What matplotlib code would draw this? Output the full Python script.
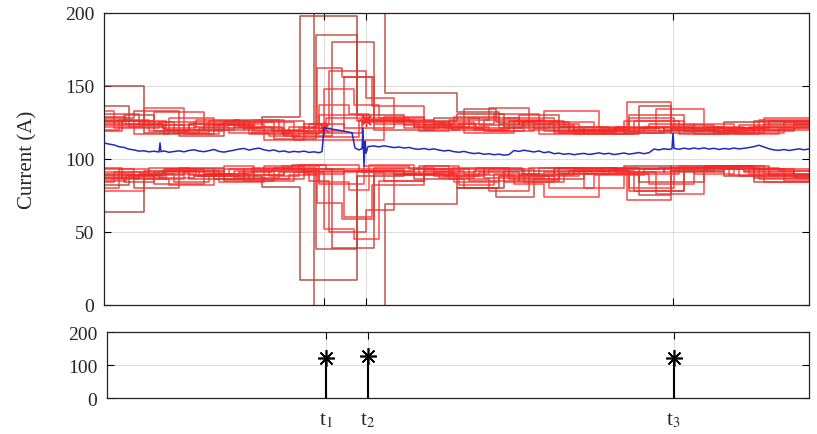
import matplotlib
matplotlib.use("Agg")
import matplotlib.pyplot as plt

plt.rcParams['font.family'] = ['Liberation Serif', 'DejaVu Serif']
plt.rcParams['mathtext.fontset'] = 'stix'

# time axis (samples), fault instants and detected values
t_max = 705
t_events = [220, 262, 569]
event_labels = ['t$_1$', 't$_2$', 't$_3$']
event_values = [121, 127, 122]

# measured current (blue)
blue_t = [0, 5, 10, 15, 20, 25, 30, 35, 40, 45, 50, 55, 56, 57, 60, 65, 70, 75, 80, 85,
          90, 95, 100, 105, 110, 115, 120, 125, 130, 135, 140, 145, 150, 155, 160, 165,
          170, 175, 180, 185, 190, 195, 200, 205, 210, 215, 218, 220, 225, 230, 235, 240,
          245, 248, 251, 255, 258, 259, 260, 261, 262, 264, 270, 275, 280, 285, 290, 295,
          300, 305, 310, 315, 320, 325, 330, 335, 340, 345, 350, 355, 360, 365, 370, 375,
          380, 385, 390, 395, 400, 405, 410, 415, 420, 425, 430, 435, 440, 445, 450, 455,
          460, 465, 470, 475, 480, 485, 490, 495, 500, 505, 510, 515, 520, 525, 530, 535,
          540, 545, 550, 555, 560, 565, 568, 569, 570, 575, 580, 585, 590, 595, 600, 605,
          610, 615, 620, 625, 630, 635, 640, 645, 650, 655, 660, 665, 670, 675, 680, 685,
          690, 695, 700, 705]
blue_i = [111.0, 110.2, 109.6, 108.4, 107.9, 106.7, 106.2, 105.4, 105.6, 104.9, 105.3, 104.8,
          111.0, 105.0, 105.5, 104.6, 105.1, 105.6, 104.9, 105.8, 106.3, 105.4, 105.0, 105.7,
          106.5, 105.2, 104.7, 105.4, 106.0, 106.8, 107.2, 106.1, 106.9, 107.4, 106.3, 105.6,
          106.2, 105.0, 105.5, 104.6, 105.2, 104.8, 105.4, 104.5, 104.9, 104.3, 105.0, 121.5,
          120.8, 120.2, 119.7, 119.0, 118.4, 118.0, 107.5, 106.2, 107.0, 121.0, 95.0, 112.0,
          104.0, 108.5, 108.9, 108.3, 109.0, 108.4, 107.8, 108.2, 107.5, 107.9, 107.0, 106.6,
          107.2, 106.4, 106.9, 106.1, 105.5, 105.9, 105.0, 104.6, 105.2, 104.3, 103.7, 104.1,
          103.2, 103.6, 102.9, 103.3, 102.6, 103.0, 105.8, 105.2, 106.0, 105.4, 104.8, 105.5,
          104.3, 104.9, 103.6, 104.0, 103.2, 103.7, 102.9, 103.5, 103.8, 103.1, 103.6, 104.2,
          103.4, 103.9, 103.0, 103.5, 104.1, 103.3, 103.8, 104.4, 103.6, 104.3, 106.8, 106.2,
          107.0, 106.5, 107.0, 117.5, 107.3, 106.6, 107.4, 106.8, 107.5, 106.9, 107.6, 106.8,
          107.3, 106.5, 107.2, 106.7, 107.5, 106.9, 107.3, 107.8, 108.5, 109.4, 108.2, 107.0,
          106.2, 105.9, 106.5, 105.8, 106.4, 106.9, 106.3, 106.8]

# interval estimates: window start, upper bound, lower bound (one row per estimator)
win_edges = [
    [0, 40, 95, 158, 196, 253, 300, 353, 400, 470, 520, 567, 620],
    [0, 25, 60, 110, 150, 210, 281, 353, 395, 450, 535, 567, 650],
    [0, 30, 75, 120, 170, 212, 253, 310, 360, 392, 430, 480, 535, 600, 650],
    [0, 20, 50, 85, 140, 180, 228, 270, 330, 375, 415, 455, 505, 567, 610, 660],
    [0, 35, 70, 105, 145, 185, 213, 238, 270, 315, 345, 385, 425, 470, 530, 580, 640],
    [0, 15, 45, 80, 115, 160, 200, 220, 250, 275, 320, 360, 410, 440, 495, 545, 590, 655],
    [0, 50, 100, 130, 175, 205, 225, 262, 290, 340, 380, 420, 460, 523, 567, 615, 680],
    [0, 10, 55, 90, 125, 165, 195, 222, 258, 300, 335, 370, 400, 450, 500, 552, 600, 640, 690],
    [0, 30, 65, 110, 140, 190, 280, 320, 355, 390, 435, 480, 520, 575, 625, 660],
    [0, 40, 80, 120, 150, 180, 215, 245, 265, 310, 350, 395, 445, 490, 540, 590, 630, 675],
    [0, 60, 120, 200, 240, 268, 320, 380, 440, 500, 560, 620],
    [0, 22, 58, 92, 135, 168, 200, 240, 290, 330, 372, 418, 465, 510, 555, 600, 648, 690],
    [0, 45, 85, 130, 178, 215, 260, 305, 345, 385, 430, 475, 525, 570, 605, 645],
    [0, 18, 62, 100, 148, 188, 255, 300, 348, 405, 455, 512, 560, 610, 665],
    [0, 35, 90, 140, 200, 258, 310, 365, 415, 470, 525, 580, 635],
]
win_upper = [
    [150, 118, 121, 129, 198, 130, 126, 131, 122, 120, 118, 121, 125],
    [136, 122, 117, 123, 119, 260, 145, 132, 124, 119, 136, 118, 122],
    [128, 133, 116, 125, 114, 185, 126, 122, 134, 125, 121, 117, 121, 120, 126],
    [125, 130, 119, 124, 121, 116, 180, 120, 128, 123, 130, 122, 119, 123, 118, 124],
    [131, 125, 118, 126, 117, 122, 162, 156, 124, 119, 127, 135, 120, 117, 126, 119, 121],
    [120, 127, 123, 117, 124, 113, 121, 148, 137, 128, 123, 118, 126, 133, 121, 124, 117, 127],
    [126, 132, 120, 127, 119, 124, 160, 142, 125, 121, 119, 126, 122, 139, 120, 118, 125],
    [133, 121, 125, 122, 118, 116, 121, 128, 125, 121, 125, 120, 128, 118, 120, 134, 122, 119, 123],
    [127, 117, 128, 120, 125, 113, 129, 120, 124, 131, 117, 121, 126, 117, 121, 128],
    [122, 135, 119, 124, 127, 118, 137, 131, 127, 124, 129, 121, 125, 119, 122, 124, 117, 121],
    [124, 120, 126, 119, 156, 136, 121, 127, 119, 118, 122, 120],
    [129, 124, 121, 127, 122, 119, 124, 121, 127, 124, 121, 125, 119, 121, 119, 121, 120, 124],
    [123, 119, 124, 122, 117, 130, 128, 125, 122, 119, 124, 120, 128, 121, 119, 122],
    [119, 126, 120, 123, 118, 115, 127, 123, 120, 126, 118, 122, 120, 121, 126],
    [126, 123, 125, 120, 118, 126, 122, 128, 123, 120, 130, 119, 123],
]
win_lower = [
    [64, 92, 88, 81, 17, 88, 90, 80, 92, 93, 95, 92, 88],
    [82, 88, 93, 86, 92, -60, 69, 80, 88, 94, 75, 95, 87],
    [90, 80, 94, 85, 94, 38, 92, 86, 80, 74, 86, 90, 84, 94, 84],
    [87, 84, 91, 86, 89, 93, 39, 94, 88, 91, 85, 90, 93, 92, 95, 90],
    [86, 90, 84, 90, 86, 89, 70, 59, 90, 95, 86, 78, 94, 92, 78, 93, 92],
    [80, 93, 89, 92, 84, 95, 91, 52, 45, 85, 92, 89, 83, 74, 90, 83, 94, 86],
    [88, 83, 90, 87, 91, 85, 50, 65, 90, 88, 93, 84, 90, 72, 94, 93, 85],
    [84, 91, 87, 89, 93, 88, 96, 93, 93, 90, 87, 92, 84, 93, 91, 76, 93, 91, 88],
    [93, 86, 82, 93, 85, 91, 85, 95, 82, 90, 94, 80, 90, 95, 89, 84],
    [78, 86, 91, 95, 89, 92, 84, 79, 96, 91, 84, 88, 80, 89, 93, 90, 94, 92],
    [89, 92, 86, 93, 60, 82, 93, 87, 91, 94, 91, 93],
    [85, 89, 92, 88, 91, 93, 90, 92, 89, 91, 94, 90, 92, 93, 94, 95, 93, 87],
    [91, 94, 89, 92, 95, 83, 95, 93, 90, 93, 88, 92, 80, 93, 95, 90],
    [94, 87, 93, 90, 94, 96, 92, 89, 94, 86, 94, 91, 94, 95, 89],
    [87, 90, 88, 93, 92, 91, 93, 85, 89, 92, 78, 94, 88],
]
win_colors = ['#a93226', '#b03a2e', '#c0392b', '#c0392b', '#e8302a', '#ff2a2a',
              '#e8302a', '#ff2a2a', '#ff2a2a', '#ff3030', '#e8302a', '#ff2020',
              '#ff2a2a', '#ff2020', '#e8302a']

fig = plt.figure(figsize=(8.17, 4.35), dpi=100)
ax1 = fig.add_axes([0.1273, 0.2966, 0.8629, 0.6713])
ax2 = fig.add_axes([0.1310, 0.0821, 0.8592, 0.1517])

grid_col = '#dcdcdc'
tick_col = '#262626'
asterisk = (8, 2, 0)  # matlab-style '*'

# top panel
for e, hi, lo, c in zip(win_edges, win_upper, win_lower, win_colors):
    xs = e + [t_max]
    ax1.step(xs, hi + [hi[-1]], where='post', color=c, lw=1.1, alpha=0.85, zorder=2)
    ax1.step(xs, lo + [lo[-1]], where='post', color=c, lw=1.1, alpha=0.85, zorder=2)
ax1.plot(t_events[:2], event_values[:2], ls='none', marker=asterisk, color='#ff2a2a',
         ms=9, mew=1.0, zorder=3)
ax1.plot(blue_t, blue_i, color='#1f2ac0', lw=1.1, zorder=4)

ax1.set_xlim(0, t_max)
ax1.set_ylim(0, 200)
ax1.set_yticks([0, 50, 100, 150, 200])
ax1.set_xticks(t_events)
ax1.set_xticklabels([])
ax1.set_ylabel('Current (A)', fontsize=15, color=tick_col, labelpad=20)
ax1.grid(True, color=grid_col, lw=0.7)
ax1.set_axisbelow(True)

# bottom panel: detection instants
ax2.vlines(t_events, 0, event_values, color='black', lw=1.5, zorder=3)
ax2.plot(t_events, event_values, ls='none', marker=asterisk, color='black',
         ms=12, mew=1.2, zorder=4)
ax2.set_xlim(0, t_max)
ax2.set_ylim(0, 200)
ax2.set_yticks([0, 100, 200])
ax2.set_xticks(t_events)
ax2.set_xticklabels(event_labels)
ax2.grid(True, color=grid_col, lw=0.7)
ax2.set_axisbelow(True)

for ax in (ax1, ax2):
    ax.tick_params(direction='in', top=True, right=True, length=5, width=0.8,
                   labelsize=14, labelcolor=tick_col, pad=7)
    for s in ax.spines.values():
        s.set_linewidth(0.9)
        s.set_color('#222222')
ax2.tick_params(axis='x', pad=9, labelsize=15)

fig.savefig('out.png', dpi=100)
